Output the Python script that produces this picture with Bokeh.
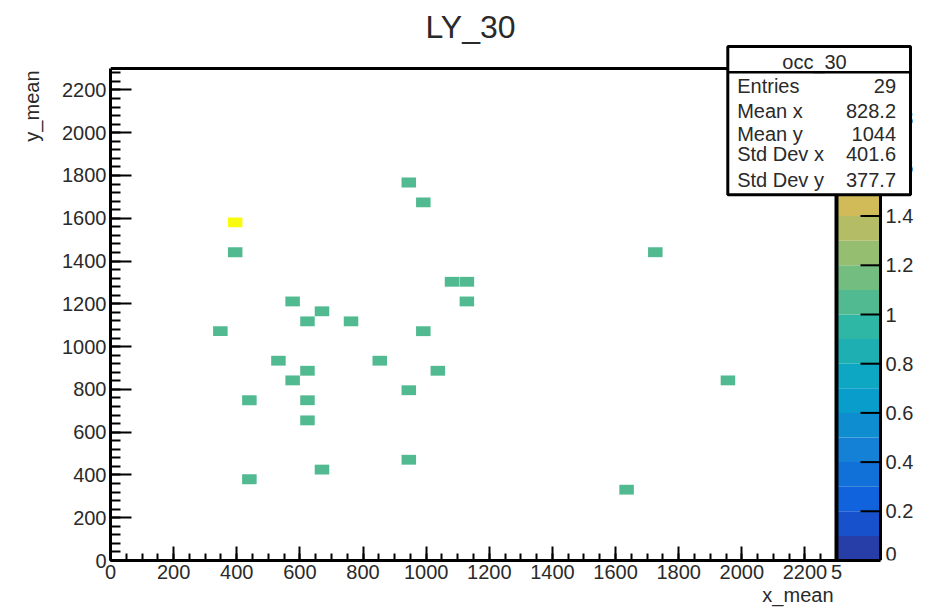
import numpy as np
from bokeh.plotting import figure
from bokeh.models import (Range1d, FixedTicker, BoxAnnotation, Label, Title, ColumnDataSource)
from bokeh.embed import file_html
from bokeh.resources import INLINE

# ---------------- data ----------------
cell_x = [395, 395, 945, 991, 1082, 1129, 1129, 577, 670, 624, 762, 348, 991, 532,
          853, 624, 1037, 577, 945, 440, 624, 624, 945, 670, 440, 1726, 1956, 1635]
cell_y = [1581, 1441, 1767, 1674, 1303, 1303, 1211, 1211, 1165, 1118, 1118, 1072, 1072, 934,
          934, 887, 887, 842, 796, 749, 749, 655, 471, 425, 380, 1441, 842, 331]
cell_z = [2] + [1] * 27
bin_w = 46
bin_h = 46

x_max = 2300
y_max = 2300
z_max = 2.0
n_levels = 20

x_ticks = list(range(0, 2201, 200))
x_minor = list(range(0, 2301, 50))
y_ticks = list(range(0, 2201, 200))
y_minor = list(range(0, 2301, 40))
z_ticks = [0, 0.2, 0.4, 0.6, 0.8, 1, 1.2, 1.4, 1.6, 1.8, 2]
z_tick_labels = ["0", "0.2", "0.4", "0.6", "0.8", "1", "1.2", "1.4", "1.6", "1.8", "2"]

title_text = "LY_30"
stats_title = "occ_30"
x_title = "x_mean"
y_title = "y_mean"
corner_text = "5"
stat_names = ["Entries", "Mean x", "Mean y", "Std Dev x", "Std Dev y"]
stat_values = ["29", "828.2", "1044", "401.6", "377.7"]

# ---------------- palette (ROOT kBird) ----------------
stops = [0.0, 0.125, 0.25, 0.375, 0.5, 0.625, 0.75, 0.875, 1.0]
red = [0.2082, 0.0592, 0.0780, 0.0232, 0.1802, 0.5301, 0.8186, 0.9956, 0.9764]
green = [0.1664, 0.3599, 0.5041, 0.6419, 0.7178, 0.7492, 0.7328, 0.7862, 0.9832]
blue = [0.5293, 0.8684, 0.8385, 0.7914, 0.6425, 0.4662, 0.3499, 0.1968, 0.0539]
NCOL = 255


def bird(t):
    r = np.interp(t, stops, red)
    g = np.interp(t, stops, green)
    b = np.interp(t, stops, blue)
    return "#%02x%02x%02x" % (int(round(r * 255)), int(round(g * 255)), int(round(b * 255)))


def level_color(i):
    idx = min(int((i + 0.99) * NCOL / n_levels), NCOL - 1)
    return bird(idx / (NCOL - 1))


band_colors = [level_color(i) for i in range(n_levels)]
z_lo = [i * z_max / n_levels for i in range(n_levels)]
z_hi = [(i + 1) * z_max / n_levels for i in range(n_levels)]


def z_color(z):
    i = min(int(0.01 + z * n_levels / z_max), n_levels - 1)
    return band_colors[i]


cell_colors = [z_color(z) for z in cell_z]

# ---------------- geometry ----------------
W, H = 930, 609
L, B = 110, 560            # frame left / bottom in canvas pixels (frame spans to right & top edges)
PT, PR, CBR = 68, 836, 880  # plot-area top, plot-area right, colour-bar right
XPX = (PR - L) / x_max
YPX = (B - PT) / y_max
X_END = (W - L) / XPX
Y_END = B / YPX
Z_END = z_max * B / (B - PT)


def px2x(px):
    return (px - L) / XPX


def px2y(py):
    return (B - py) / YPX


FONT = "Liberation Sans"
TXT = "#2a2a2a"

p = figure(width=W, height=H, output_backend="svg", toolbar_location=None,
           x_range=Range1d(0, X_END), y_range=Range1d(0, Y_END),
           min_border_left=L, min_border_right=0, min_border_top=0,
           min_border_bottom=H - B)
p.title.visible = False
p.xgrid.visible = False
p.ygrid.visible = False
p.background_fill_color = "white"
p.border_fill_color = "white"
p.outline_line_color = None
p.extra_y_ranges = {"z": Range1d(0, Z_END)}

CB_X = px2x(CBR)

# cells
src = ColumnDataSource(dict(x=cell_x, y=cell_y, c=cell_colors))
p.rect(x="x", y="y", width=bin_w, height=bin_h, fill_color="c", line_color=None, source=src)

# colour bar bands
p.quad(left=x_max, right=CB_X, bottom=z_lo, top=z_hi, fill_color=band_colors,
       line_color=None, y_range_name="z")

# frame lines (top, right of plot area, right of colour bar)
p.segment(x0=[0, x_max], y0=[y_max, y_max], x1=[CB_X, CB_X], y1=[y_max, y_max],
          line_color="black", line_width=3)
p.segment(x0=[x_max], y0=[0], x1=[x_max], y1=[y_max], line_color="black", line_width=4)
p.segment(x0=[CB_X], y0=[0], x1=[CB_X], y1=[y_max], line_color="black", line_width=3)

# colour-bar ticks and labels
p.segment(x0=px2x(CBR - 20), x1=CB_X, y0=z_ticks, y1=z_ticks, line_color="black",
          line_width=2, y_range_name="z")
for zt, zl in zip(z_ticks, z_tick_labels):
    p.add_layout(Label(x=px2x(CBR + 5), y=zt, y_range_name="z", text=zl, text_align="left",
                       text_baseline="middle", y_offset=(7 if zt == 0 else 0),
                       text_font=FONT, text_font_size="20px", text_color=TXT))

# axes
xa = p.xaxis[0]
xa.ticker = FixedTicker(ticks=x_ticks + [x_max], minor_ticks=x_minor)
xa.major_label_overrides = {x_max: corner_text}
xa.bounds = (0, CB_X)
ya = p.yaxis[0]
ya.ticker = FixedTicker(ticks=y_ticks, minor_ticks=y_minor)
ya.bounds = (0, y_max)
for ax, maj, mnr in ((xa, 14, 7), (ya, 21, 10)):
    ax.major_tick_in = maj
    ax.major_tick_out = 0
    ax.minor_tick_in = mnr
    ax.minor_tick_out = 0
    ax.major_tick_line_width = 2
    ax.minor_tick_line_width = 2
    ax.axis_line_width = 3
    ax.axis_line_color = "black"
    ax.major_label_text_font = FONT
    ax.major_label_text_font_size = "20px"
    ax.major_label_text_color = TXT
    ax.major_label_standoff = 4

# axis titles (side panels)
p.add_layout(Title(text=x_title, align="right", offset=97, standoff=0, text_font=FONT,
                   text_font_size="20px", text_font_style="normal", text_color=TXT), "below")
p.add_layout(Title(text=y_title, align="right", offset=70, standoff=34, text_font=FONT,
                   text_font_size="20px", text_font_style="normal", text_color=TXT), "left")

# main title
p.add_layout(Label(x=px2x(470), y=px2y(26.2), text=title_text, text_align="center",
                   text_baseline="middle", text_font=FONT, text_font_size="32px",
                   text_color=TXT))

# stats box
p.add_layout(BoxAnnotation(left=px2x(727.3), right=px2x(910), top=px2y(46), bottom=px2y(194.3),
                           fill_color="white", fill_alpha=1.0, line_color="black",
                           line_width=3, line_alpha=1.0))
p.add_layout(Label(x=px2x(814), y=px2y(61.7), text=stats_title, text_align="center",
                   text_baseline="middle", text_font=FONT, text_font_size="20px",
                   text_color=TXT))
p.add_layout(BoxAnnotation(left=px2x(727.3), right=px2x(910), top=px2y(70.4), bottom=px2y(73),
                           fill_color="black", fill_alpha=1.0, line_color=None))
row_mid = [85.5, 110.3, 133.7, 153.7, 179.7]
for name, val, my in zip(stat_names, stat_values, row_mid):
    p.add_layout(Label(x=px2x(736.7), y=px2y(my), text=name, text_align="left",
                       text_baseline="middle", text_font=FONT, text_font_size="20px",
                       text_color=TXT))
    p.add_layout(Label(x=px2x(895.5), y=px2y(my), text=val, text_align="right",
                       text_baseline="middle", text_font=FONT, text_font_size="20px",
                       text_color=TXT))

open("out.html", "w").write(file_html(p, INLINE))
